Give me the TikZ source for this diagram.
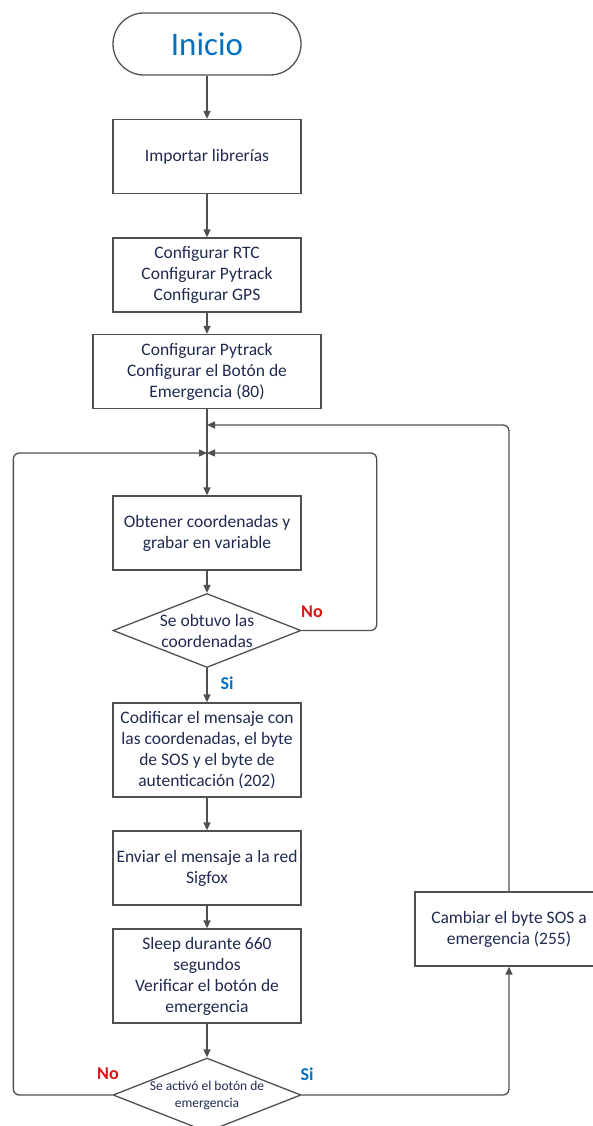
\documentclass[tikz,border=0pt]{standalone}
\usepackage{fontspec}
\setmainfont{Carlito}
\usetikzlibrary{arrows.meta,shapes.geometric,positioning}
\definecolor{txtnavy}{RGB}{30,42,80}
\definecolor{officeblue}{RGB}{0,112,192}
\definecolor{nored}{RGB}{220,20,20}
\definecolor{linegray}{RGB}{80,80,80}

\begin{document}
\begin{tikzpicture}[x=1pt,y=1pt,>={Triangle[length=8pt,width=7pt]},line width=1.3pt,draw=linegray]
        \tikzstyle{start}=[draw=linegray,rounded corners=31pt,minimum width=188pt,minimum height=62pt,
                           text=officeblue,font=\fontsize{33}{36}\selectfont]
        \tikzstyle{proc}=[draw=linegray,rectangle,minimum width=188pt,minimum height=74pt,align=center,
                          text=txtnavy,font=\fontsize{17.5}{21}\selectfont]
        \tikzstyle{decision}=[draw=linegray,diamond,aspect=2.54,minimum width=188pt,minimum height=74pt,
                              inner sep=0pt,align=center,text=txtnavy,font=\fontsize{17.5}{21}\selectfont]
        \tikzstyle{yes}=[text=officeblue,font=\fontsize{18}{20}\selectfont\bfseries]
        \tikzstyle{no}=[text=nored,font=\fontsize{18}{20}\selectfont\bfseries]

        \useasboundingbox (0,0) rectangle (592,-1126);

        \node[start]  (ini) at (207,-44)                              {Inicio};
        \node[proc]   (imp)  [node distance=112.5pt,below of=ini]     {Importar librerías};
        \node[proc]   (cfg1) [node distance=118.5pt,below of=imp]     {Configurar RTC\\Configurar Pytrack\\Configurar GPS};
        \node[proc,minimum width=228pt]
                      (cfg2) [node distance=96.5pt,below of=cfg1]     {Configurar Pytrack\\Configurar el Botón de\\Emergencia (80)};
        \node[proc]   (obt)  [node distance=161.5pt,below of=cfg2]    {Obtener coordenadas y\\grabar en variable};
        \node[decision] (dia1) [node distance=97.5pt,below of=obt]    {Se obtuvo las\\coordenadas};
        \node[proc,minimum height=94pt]
                      (cod)  [node distance=119.5pt,below of=dia1]    {Codificar el mensaje con\\las coordenadas, el byte\\de SOS y el byte de\\autenticación (202)};
        \node[proc]   (env)  [node distance=118pt,below of=cod]       {Enviar el mensaje a la red\\Sigfox};
        \node[proc,minimum height=94pt]
                      (slp)  [node distance=108pt,below of=env]       {Sleep durante 660\\segundos\\Verificar el botón de\\emergencia};
        \node[decision,inner sep=-2pt,font=\fontsize{13.5}{17}\selectfont]
                      (dia2) [node distance=119pt,below of=slp]       {Se activó el botón de\\emergencia};
        \node[proc]   (cam) at (509,-929)                             {Cambiar el byte SOS a\\emergencia (255)};

        \coordinate (j1) at (207,-425);
        \coordinate (j2) at (207,-453);

        \node[no]  (no1) at (312,-612)  {No};
        \node[yes] (si1) at (227,-683)  {Si};
        \node[no]  (no2) at (108,-1074) {No};
        \node[yes] (si2) at (307,-1074) {Si};

        \path[->]
                  (ini)  edge (imp)
                  (imp)  edge (cfg1)
                  (cfg1) edge (cfg2)
                  (cfg2) edge (obt)
                  (obt)  edge (dia1)
                  (dia1) edge (cod)
                  (cod)  edge (env)
                  (env)  edge (slp)
                  (slp)  edge (dia2);

        % lazos de regreso
        \draw[->,rounded corners=6pt] (dia1.east) -- ++(75,0) |- (j2);
        \draw[->,rounded corners=6pt] (dia2.west) -- ++(-99,0) |- (j2);
        \draw[->,rounded corners=6pt] (dia2.east) -| (cam.south);
        \draw[->,rounded corners=6pt] (cam.north) |- (j1);
\end{tikzpicture}
\end{document}
